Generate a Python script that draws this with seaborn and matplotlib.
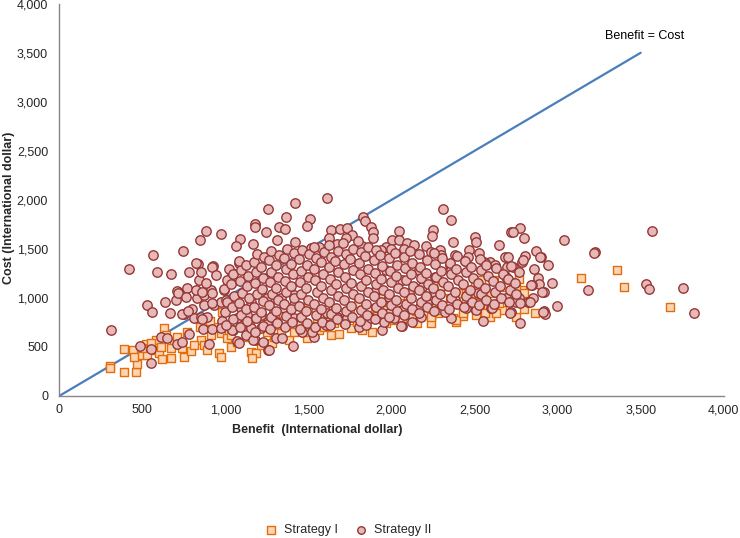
import matplotlib
matplotlib.use("Agg")
import matplotlib.pyplot as plt
import pandas as pd
import seaborn as sns

# Strategy I (squares): (benefit, cost) in international dollars
strategy_i_points = [
    (303, 306), (303, 285), (393, 245), (465, 245), (393, 479), (471, 326), (495, 418),
    (447, 469), (525, 530), (585, 571), (561, 469), (531, 418), (633, 694), (645, 622),
    (603, 439), (621, 377), (675, 388), (693, 541), (753, 398), (771, 653), (795, 459),
    (855, 571), (873, 520), (915, 622), (963, 439), (975, 398), (981, 857), (975, 643),
    (1035, 500), (1071, 551), (1125, 602), (1155, 449), (1185, 439), (1161, 388),
    (1215, 520), (1281, 541), (1293, 602), (1335, 653), (1383, 571), (1413, 653),
    (1431, 734), (711, 602), (741, 490), (813, 520), (891, 469), (1011, 592), (1251, 653),
    (1305, 724), (615, 500), (675, 490), (453, 398), (501, 490), (555, 541), (1035, 622),
    (933, 704), (1095, 724), (909, 765),
    (1491, 592), (1563, 673), (1635, 622), (1683, 632), (1755, 694), (1821, 673),
    (1881, 653), (1911, 826), (2013, 775), (2133, 796), (2235, 745), (2235, 826),
    (2283, 847), (2373, 796), (2391, 755), (2433, 816), (2511, 826), (2571, 857),
    (2595, 806), (2583, 908), (2667, 877), (2511, 1030), (2415, 1051), (2271, 928),
    (2175, 908), (2073, 898), (1971, 877), (1935, 826), (1833, 806), (1791, 755),
    (1713, 755), (1653, 745), (1593, 704), (1533, 704), (1473, 653),
    (3141, 1204), (3357, 1285), (3399, 1112), (3675, 908), (2865, 847), (2799, 887),
    (2751, 806), (2787, 1081), (2751, 1091), (2769, 1193), (2721, 1163), (2619, 1183),
    (2541, 1183), (2631, 847), (2565, 847), (2391, 775), (2241, 806), (2151, 745),
    (2289, 877), (2403, 1051), (2505, 1132), (2685, 1112), (1965, 745), (2061, 775),
    (2121, 806), (2433, 847),
    (1200, 800), (1350, 850), (1500, 900), (1650, 880), (1800, 950), (1950, 1000),
    (2100, 1020), (2250, 1050), (2350, 1000), (2450, 980), (2600, 1050), (2700, 1000),
    (1100, 820), (1400, 780), (1600, 820), (1750, 860), (1900, 900), (2050, 950),
    (2200, 980), (2300, 1120), (2650, 950), (2800, 1050), (850, 700), (1150, 700),
    (1250, 760), (1550, 800), (1700, 800), (2000, 850), (2150, 870), (2500, 900),
]

# Strategy II (circles): scattered points
strategy_ii_points = [
    (309, 673), (423, 1295), (555, 337), (531, 928), (561, 857), (567, 1438), (591, 1265),
    (675, 1244), (747, 1479), (849, 1591), (885, 1683), (975, 1652), (1179, 1754),
    (1179, 1724), (1245, 1673), (1257, 1907), (1419, 1969), (1365, 1826), (1323, 1724),
    (1359, 1703), (1089, 1601), (1065, 1530), (1167, 1550), (1311, 1591), (1419, 1571),
    (837, 1346), (927, 1326),
    (1611, 2020), (1509, 1805), (1491, 1734), (1827, 1826), (1839, 1785), (1875, 1724),
    (1887, 1673), (1887, 1612), (2043, 1683), (2313, 1907), (2361, 1795), (2253, 1693),
    (2247, 1632), (2373, 1571), (2505, 1622), (2511, 1571), (2469, 1489), (2529, 1459),
    (2649, 1540), (2685, 1418), (2721, 1673), (2625, 1326), (2559, 1367), (2595, 1367),
    (2445, 1377), (2385, 1438), (2295, 1489), (2301, 1438), (2355, 1336), (2697, 1316),
    (2691, 1214),
    (1635, 1693), (1689, 1703), (1731, 1714), (1761, 1642), (1725, 1612), (1623, 1612),
    (2001, 1591), (2043, 1591), (1965, 1520), (2091, 1561), (2133, 1540), (2205, 1530),
    (2241, 1469), (2073, 1499), (1515, 1510), (1563, 1520), (1671, 1550), (1821, 1530),
    (1935, 1489),
    (2775, 1714), (2733, 1673), (2799, 1612), (3039, 1591), (2871, 1479), (2901, 1418),
    (2805, 1428), (2787, 1367), (2943, 1336), (2859, 1295), (3225, 1469), (3567, 1683),
    (2733, 1316), (2769, 1265), (2883, 1204), (2889, 1142), (2847, 1132), (2967, 1153),
    (3183, 1081), (3531, 1142), (3549, 1091), (3753, 1101), (3819, 847), (2997, 918),
    (2919, 867), (2925, 836), (2775, 745), (2853, 1000), (2823, 959), (2769, 1000),
    (2751, 959), (2919, 1061),
    (1941, 673), (2061, 714), (2121, 755), (2361, 796), (2553, 765), (2913, 857),
    (2907, 1061), (2841, 1132), (2895, 1418), (3219, 1459), (2721, 857), (2775, 949),
    (2835, 959), (2691, 1000), (2601, 898), (2451, 908), (2325, 857), (2061, 877),
    (1983, 847), (2163, 898), (2211, 949), (2265, 1051), (2385, 979), (2523, 1051),
    (2565, 1357), (2625, 1336), (2703, 1418), (2793, 1387), (2463, 1418), (2361, 1285),
    (2265, 1214), (2163, 1285), (2061, 1183), (1965, 1285), (1905, 1081), (1983, 1010),
    (2103, 1051), (2181, 1112),
    (639, 959), (669, 847), (705, 979), (717, 1061), (753, 836), (801, 887), (489, 510),
    (555, 479), (615, 602), (651, 592), (711, 530), (741, 551), (783, 632), (903, 530),
    (867, 683), (813, 796), (855, 806), (891, 806), (933, 928), (981, 704), (1047, 673),
    (1071, 561), (1125, 622), (1179, 571), (1227, 551), (1257, 469), (1407, 510),
    (1305, 592), (1341, 592), (981, 765), (1071, 796), (1155, 694), (1215, 694),
    (1251, 734), (1311, 755), (1413, 796), (1455, 806), (831, 1000), (873, 1030),
    (915, 1081), (771, 1101), (711, 1071), (873, 928), (975, 959), (1035, 928),
    (1095, 898), (1131, 826), (1215, 826), (1293, 857), (1353, 898), (1413, 928),
    (1155, 959), (1251, 1000), (1335, 1000), (1413, 1030),
    (1533, 602), (1521, 653), (1605, 724), (1803, 704), (1845, 724), (1953, 755),
    (2055, 714), (2175, 806), (2451, 898), (2511, 877), (2607, 898), (2715, 847),
    (1731, 796), (1671, 806), (1611, 847), (1875, 796), (2013, 796),
    (717, 1051), (741, 836), (777, 867), (825, 1081), (843, 1183), (855, 1265),
    (783, 1265), (825, 1357), (921, 1316), (945, 1234), (885, 1153), (861, 1061),
    (921, 1051), (993, 1081), (1035, 1153), (1041, 1255), (1083, 1357), (1005, 979),
    (1041, 949), (921, 949), (765, 1010), (861, 785), (921, 683), (975, 694),
    (1041, 673), (1083, 541), (1167, 571), (1263, 469), (1461, 653),
    # dense core
    (1003, 728), (996, 861), (1012, 958), (989, 1087), (1008, 1186), (1021, 1297),
    (1046, 786), (1038, 903), (1052, 1024), (1035, 1139), (1049, 1246),
    (1087, 708), (1094, 822), (1082, 947), (1101, 1052), (1089, 1168), (1097, 1283), (1084, 1376),
    (1132, 763), (1126, 884), (1141, 1003), (1128, 1117), (1137, 1219), (1122, 1334),
    (1176, 652), (1184, 797), (1171, 912), (1189, 1036), (1178, 1148), (1185, 1262),
    (1173, 1371), (1192, 1447),
    (1224, 718), (1216, 853), (1229, 972), (1218, 1093), (1226, 1204), (1213, 1313), (1231, 1418),
    (1268, 684), (1275, 803), (1262, 924), (1279, 1041), (1266, 1163), (1273, 1268),
    (1261, 1384), (1277, 1483),
    (1314, 743), (1306, 864), (1319, 983), (1308, 1097), (1316, 1213), (1303, 1332), (1321, 1441),
    (1357, 703), (1366, 818), (1352, 943), (1368, 1062), (1359, 1176), (1364, 1294),
    (1351, 1403), (1369, 1497),
    (1404, 757), (1396, 883), (1411, 1004), (1398, 1117), (1407, 1243), (1393, 1348), (1412, 1462),
    (1447, 683), (1456, 802), (1443, 918), (1458, 1043), (1449, 1163), (1454, 1277),
    (1441, 1392), (1459, 1488),
    (1493, 741), (1486, 863), (1499, 976), (1484, 1103), (1496, 1218), (1489, 1334), (1501, 1443),
    (1538, 702), (1546, 824), (1533, 938), (1549, 1063), (1541, 1183), (1536, 1297),
    (1548, 1412), (1531, 1517),
    (1583, 758), (1576, 884), (1589, 1002), (1578, 1118), (1586, 1242), (1574, 1363), (1591, 1468),
    (1628, 722), (1636, 838), (1623, 963), (1639, 1082), (1631, 1197), (1626, 1313),
    (1638, 1418), (1622, 1537),
    (1672, 783), (1664, 897), (1679, 1023), (1667, 1138), (1676, 1263), (1663, 1377), (1681, 1482),
    (1718, 738), (1727, 862), (1713, 977), (1729, 1103), (1721, 1218), (1716, 1343),
    (1728, 1452), (1711, 1557),
    (1763, 803), (1756, 918), (1769, 1043), (1758, 1157), (1766, 1283), (1753, 1398), (1771, 1503),
    (1808, 763), (1816, 877), (1803, 1003), (1819, 1118), (1811, 1243), (1806, 1357),
    (1818, 1472), (1801, 1578),
    (1852, 823), (1845, 943), (1859, 1058), (1847, 1183), (1856, 1298), (1843, 1423), (1861, 1518),
    (1898, 783), (1906, 903), (1893, 1018), (1909, 1143), (1901, 1258), (1896, 1383), (1908, 1487),
    (1942, 843), (1935, 957), (1949, 1083), (1937, 1198), (1946, 1323), (1933, 1438),
    (1988, 803), (1996, 923), (1983, 1038), (1999, 1163), (1991, 1277), (1986, 1403), (1998, 1497),
    (2032, 862), (2025, 983), (2039, 1097), (2027, 1223), (2036, 1338), (2023, 1457),
    (2078, 823), (2086, 938), (2073, 1063), (2089, 1178), (2081, 1303), (2076, 1417),
    (2122, 883), (2115, 1003), (2129, 1118), (2117, 1243), (2126, 1357), (2113, 1478),
    (2168, 843), (2176, 963), (2163, 1078), (2179, 1203), (2171, 1318), (2166, 1443),
    (2212, 903), (2205, 1017), (2219, 1143), (2207, 1257), (2216, 1383),
    (2258, 863), (2266, 978), (2253, 1103), (2269, 1218), (2261, 1343), (2256, 1457),
    (2302, 923), (2295, 1037), (2309, 1163), (2297, 1277), (2306, 1403),
    (2348, 883), (2356, 1003), (2343, 1117), (2359, 1243), (2351, 1357),
    (2392, 943), (2385, 1058), (2399, 1183), (2387, 1297), (2396, 1423),
    (2438, 903), (2446, 1023), (2433, 1137), (2449, 1263), (2441, 1377),
    (2482, 963), (2475, 1077), (2489, 1203), (2477, 1318),
    (2528, 923), (2536, 1043), (2523, 1157), (2539, 1283), (2531, 1397),
    (2572, 983), (2565, 1097), (2579, 1223), (2567, 1337),
    (2618, 943), (2626, 1063), (2613, 1177), (2629, 1303),
    (2662, 1003), (2655, 1117), (2669, 1243),
    (2708, 963), (2716, 1083), (2703, 1197), (2719, 1327),
    (2752, 1043), (2745, 1157),
]

break_even_line = [0, 3500]

s1 = pd.DataFrame(strategy_i_points, columns=["benefit", "cost"])
s2 = pd.DataFrame(strategy_ii_points, columns=["benefit", "cost"])

sns.set_style("white")
plt.rcParams["font.family"] = ["Liberation Sans", "DejaVu Sans"]

fig = plt.figure(figsize=(7.4, 5.38), dpi=100)
ax = fig.add_axes([0.080, 0.264, 0.898, 0.729])

ax.plot(break_even_line, break_even_line, color="#4A7EBB", linewidth=1.6, zorder=1)
sns.scatterplot(data=s1, x="benefit", y="cost", marker="s", s=40, color="#FCD5B5",
                edgecolor="#E46C0A", linewidth=1.0, ax=ax, zorder=2, label="Strategy I")
sns.scatterplot(data=s2, x="benefit", y="cost", marker="o", s=46, color="#E6B9B8",
                edgecolor="#953735", linewidth=1.0, ax=ax, zorder=3, label="Strategy II")

ax.text(3285, 3670, "Benefit = Cost", fontsize=9, va="center", ha="left", color="black")

ax.set_xlim(0, 4000)
ax.set_ylim(0, 4000)
ax.set_xticks(range(0, 4001, 500))
ax.set_yticks(range(0, 4001, 500))
ax.xaxis.set_major_formatter(matplotlib.ticker.StrMethodFormatter("{x:,.0f}"))
ax.yaxis.set_major_formatter(matplotlib.ticker.StrMethodFormatter("{x:,.0f}"))
ax.tick_params(axis="x", length=0, labelsize=9, pad=6)
ax.tick_params(axis="y", length=0, labelsize=9, pad=8)
ax.grid(False)

for side in ["top", "right"]:
    ax.spines[side].set_visible(False)
for side in ["left", "bottom"]:
    ax.spines[side].set_color("#868686")
    ax.spines[side].set_linewidth(1.0)

ax.set_xlabel("Benefit  (International dollar)", fontsize=9, fontweight="bold")
ax.set_ylabel("Cost (International dollar)", fontsize=9, fontweight="bold")
ax.xaxis.set_label_coords(0.389, -0.072)
ax.yaxis.set_label_coords(-0.066, 0.48)

handles, labels = ax.get_legend_handles_labels()
ax.legend_.remove()
fig.legend(handles, labels, loc="center", bbox_to_anchor=(0.466, 0.015), ncol=2,
           frameon=False, fontsize=9, handletextpad=0.1, columnspacing=0.8,
           markerscale=0.8)

fig.savefig("out.png", dpi=100)
